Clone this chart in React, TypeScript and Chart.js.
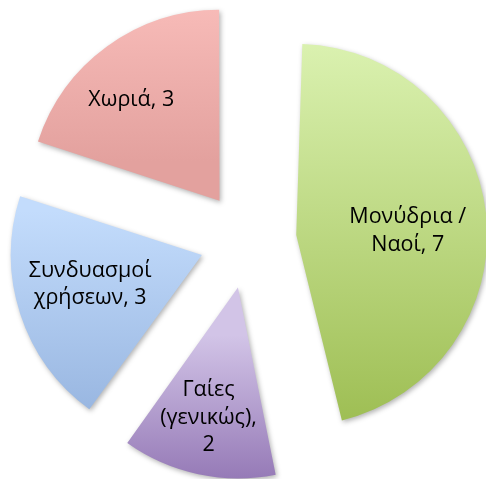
import React, { useEffect, useRef } from 'react';
import { Chart, registerables } from 'chart.js';

Chart.register(...registerables);

// ---- data ----
const categories = ['Μονύδρια / Ναοί', 'Γαίες (γενικώς)', 'Συνδυασμοί χρήσεων', 'Χωριά'];
const values = [7, 2, 3, 3];

// ---- styles / layout ----
const topColors = ['#dbf2b1', '#d2c4e7', '#c3dcfc', '#fcc1be'];
const bottomColors = ['#9fbf55', '#8262a7', '#96b4df', '#e3a19e'];
const labelDistance = [0.584, 0.7, 0.605, 0.7];
const labelAngleShift = [4, 0.7, 3.2, -5.3];
const labelMaxWidth = [132, 105, 140, 140];

const RADIUS = 191;
const EXPLODE = 48.5;
const FONT = '21.5px "Open Sans"';
const LINE_H = 27.5;

function wrap(ctx: CanvasRenderingContext2D, text: string, maxW: number): string[] {
  const words = text.split(' ');
  const lines: string[] = [];
  let line = '';
  for (const w of words) {
    const test = line ? line + ' ' + w : w;
    if (line && ctx.measureText(test).width > maxW) {
      lines.push(line);
      line = w;
    } else {
      line = test;
    }
  }
  if (line) lines.push(line);
  return lines;
}

const piePlugin = {
  id: 'excelPie',
  afterDatasetsUpdate(chart: any) {
    const meta = chart.getDatasetMeta(0);
    const ctx: CanvasRenderingContext2D = chart.ctx;
    meta.data.forEach((arc: any, i: number) => {
      const off = (arc.options.offset || 0) / 4;
      const fix = 1 - Math.sin(Math.min(Math.PI, arc.circumference));
      arc.outerRadius = RADIUS - off * fix;
      const mid = (arc.startAngle + arc.endAngle) / 2;
      const vy = arc.y + Math.sin(mid) * off;
      let minY = vy;
      let maxY = vy;
      const consider = (a: number) => {
        const y = vy + Math.sin(a) * RADIUS;
        minY = Math.min(minY, y);
        maxY = Math.max(maxY, y);
      };
      consider(arc.startAngle);
      consider(arc.endAngle);
      for (let k = -4; k <= 4; k++) {
        const a = Math.PI / 2 + k * Math.PI;
        if (a > arc.startAngle && a < arc.endAngle) consider(a);
      }
      const g = ctx.createLinearGradient(0, minY, 0, maxY);
      g.addColorStop(0, topColors[i]);
      g.addColorStop(1, bottomColors[i]);
      arc.options = { ...arc.options, backgroundColor: g };
    });
  },
  beforeDatasetsDraw(chart: any) {
    const ctx: CanvasRenderingContext2D = chart.ctx;
    ctx.save();
    ctx.shadowColor = 'rgba(0,0,0,0.3)';
    ctx.shadowBlur = 5;
    ctx.shadowOffsetX = 1.5;
    ctx.shadowOffsetY = 2;
  },
  afterDatasetsDraw(chart: any) {
    const ctx: CanvasRenderingContext2D = chart.ctx;
    ctx.restore();
    const meta = chart.getDatasetMeta(0);
    ctx.save();
    ctx.font = FONT;
    ctx.fillStyle = '#000000';
    ctx.textAlign = 'center';
    ctx.textBaseline = 'middle';
    meta.data.forEach((arc: any, i: number) => {
      const off = (arc.options.offset || 0) / 4;
      const mid = (arc.startAngle + arc.endAngle) / 2;
      const vx = arc.x + Math.cos(mid) * off;
      const vy = arc.y + Math.sin(mid) * off;
      const a = mid + (labelAngleShift[i] * Math.PI) / 180;
      const r = RADIUS * labelDistance[i];
      const cx = vx + Math.cos(a) * r;
      const cy = vy + Math.sin(a) * r;
      const lines = wrap(ctx, `${categories[i]}, ${values[i]}`, labelMaxWidth[i]);
      lines.forEach((ln, j) => {
        ctx.fillText(ln, cx, cy + (j - (lines.length - 1) / 2) * LINE_H);
      });
    });
    ctx.restore();
  },
};

export default function App() {
  const ref = useRef<HTMLCanvasElement>(null);
  useEffect(() => {
    const chart = new Chart(ref.current!, {
      type: 'pie',
      data: {
        labels: categories,
        datasets: [
          {
            data: values,
            backgroundColor: bottomColors,
            borderWidth: 0,
            offset: EXPLODE * 4,
            radius: RADIUS,
          } as any,
        ],
      },
      options: {
        responsive: false,
        animation: false,
        radius: RADIUS,
        events: [],
        layout: { padding: { left: 10, right: 0, top: 1, bottom: 0 } },
        plugins: { legend: { display: false }, tooltip: { enabled: false } },
      } as any,
      plugins: [piePlugin],
    });
    return () => chart.destroy();
  }, []);
  return (
    <div style={{ position: 'absolute', left: 0, top: 0, width: 486, height: 479, background: '#ffffff' }}>
      <canvas ref={ref} width={486} height={479} style={{ display: 'block' }} />
    </div>
  );
}
